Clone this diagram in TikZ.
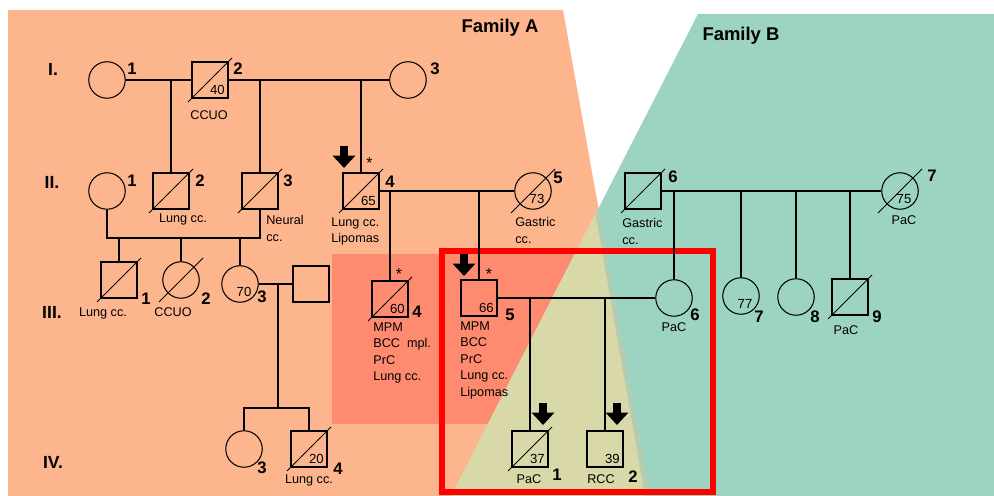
\documentclass[tikz,border=0pt]{standalone}
\usepackage{fontspec}
\setmainfont{Liberation Sans}
\usetikzlibrary{calc,arrows.meta}
\definecolor{famAcol}{RGB}{253,181,141}
\definecolor{famBcol}{RGB}{157,211,193}
\definecolor{hotcol}{RGB}{254,139,111}
\definecolor{mixcol}{RGB}{217,216,169}
\definecolor{stripecol}{RGB}{180,205,178}
\begin{document}
\begin{tikzpicture}[x=0.02cm, y=-0.02cm,
    sq/.style={draw, line width=0.6pt, minimum size=0.72cm, inner sep=0pt},
    ci/.style={draw, circle, line width=0.6pt, minimum size=0.73cm, inner sep=0pt},
    link/.style={line width=1.1pt},
    slash/.style={line width=0.5pt},
    proband/.style={line width=5pt, -{Triangle[width=12.5pt, length=7pt]}},
    num/.style={font=\fontsize{9.5}{11}\selectfont\bfseries, inner sep=0pt},
    gen/.style={font=\fontsize{10}{12}\selectfont\bfseries, inner sep=0pt},
    title/.style={font=\fontsize{10.5}{12}\selectfont\bfseries, inner sep=0pt},
    note/.style={font=\fontsize{7.2}{9.4}\selectfont, inner sep=0pt},
    notes/.style={note, align=left, anchor=north west},
    agetxt/.style={font=\fontsize{7.5}{9}\selectfont, inner sep=2pt, anchor=south east},
    ageround/.style={agetxt, xshift=1.1pt, yshift=-1.7pt},
    asterisk/.style={font=\fontsize{9}{10}\selectfont, inner sep=0pt}]
    \useasboundingbox (0,0) rectangle (994,496);

    % Backgrounds: family A, family B and their overlap
    \fill[famAcol] (8,10) -- (563,10) -- (650,496) -- (8,496) -- cycle;
    \fill[hotcol] (332,254) rectangle (600,424);
    \fill[famBcol] (698,14) -- (994,14) -- (994,496) -- (451,496) -- cycle;
    \begin{scope}
        \clip (598,208) -- (650,496) -- (451,496) -- cycle;
        \fill[mixcol] (598,208) -- (650,496) -- (451,496) -- cycle;
        \draw[stripecol, line width=3.4pt] (596,200) -- (648,496);
    \end{scope}
    \draw[red, line width=2.9pt] (442,251) rectangle (713,492);

    \node[title] (famA) at (500,28) {Family A};
    \node[title] (famB) at (741,36) {Family B};

    % Generation labels
    \foreach \x/\y/\t [count=\k] in {53/69/I., 52/182/II., 52/312/III., 53/462/IV.}
        \node[gen] (gen\k) at (\x,\y) {\t};

    % Generation I
    \node[ci] (i1) at (107,80) {};
    \node[sq] (i2) at (210,80) {};
    \node[ci] (i3) at (408,80) {};

    % Generation II
    \node[ci] (ii1) at (107,191) {};
    \node[sq] (ii2) at (171,191) {};
    \node[sq] (ii3) at (260,191) {};
    \node[sq] (ii4) at (361,191) {};
    \node[ci] (ii5) at (533,191) {};
    \node[sq] (ii6) at (643,191) {};
    \node[ci] (ii7) at (900,191) {};

    % Generation III
    \node[sq] (iii1) at (119,280) {};
    \node[ci] (iii2) at (181,280) {};
    \node[ci] (iii3) at (240,284) {};
    \node[sq] (iii3m) at (311,284) {};
    \node[sq] (iii4) at (390,299) {};
    \node[sq] (iii5) at (479,298) {};
    \node[ci] (iii6) at (674,298) {};
    \node[ci] (iii7) at (741,296) {};
    \node[ci] (iii8) at (796,297) {};
    \node[sq] (iii9) at (850,297) {};

    % Generation IV
    \node[ci] (iv3) at (244,449) {};
    \node[sq] (iv4) at (309,449) {};
    \node[sq] (iv1) at (530,449) {};
    \node[sq] (iv2) at (605,449) {};

    % Deceased
    \foreach \c in {i2,ii2,ii3,ii4,ii5,ii6,ii7,iii1,iii2,iii4,iii9,iv4,iv1}
        \draw[slash] ($(\c)+(-22,22)$) -- ($(\c)+(22,-22)$);

    % Ages
    \foreach \c/\a in {i2/40, ii4/65, iii4/60, iii5/66, iv4/20, iv1/37, iv2/39}
        \node[agetxt] (\c-age) at (\c.south east) {\a};
    \foreach \c/\a in {ii5/73, ii7/75, iii3/70, iii7/77}
        \node[ageround] (\c-age) at (\c.south east) {\a};

    % Lines of descent
    \draw[link] (i1) -- (i2);
    \draw[link] (i2) -- (i3);
    \draw[link] (ii2.north) -- (ii2.north |- i1.east);
    \draw[link] (ii3.north) -- (ii3.north |- i3.west);
    \draw[link] (ii4.north) -- (ii4.north |- i3.west);

    \coordinate (u1) at (183,238);
    \draw[link] (ii1.south) |- (u1) -| (ii3.south);
    \foreach \c in {iii1,iii2,iii3}
        \draw[link] (\c.north) -- (\c.north |- u1);
    \draw[link] (ii4) -- (ii5);
    \draw[link] (iii4.north) -- (iii4.north |- ii4.east);
    \draw[link] (iii5.north) -- (iii5.north |- ii4.east);
    \draw[link] (ii6) -- (ii7);
    \foreach \c in {iii6,iii7,iii8,iii9}
        \draw[link] (\c.north) -- (\c.north |- ii6.east);

    \draw[link] (iii3) -- (iii3m);
    \coordinate (u2) at (278,408);
    \draw[link] (u2) -- (u2 |- iii3.east);
    \draw[link] (iv3.north) |- (u2) -| (iv4.north);
    \draw[link] (iii5) -- (iii6);
    \draw[link] (iv1.north) -- (iv1.north |- iii5.east);
    \draw[link] (iv2.north) -- (iv2.north |- iii5.east);

    % Probands and tested carriers
    \foreach \x/\y [count=\k] in {344/146, 464/254, 543/403, 617/403}
        \draw[proband] (\x,\y) coordinate (pb\k) -- ++(0,22);
    \node[asterisk] (st1) at (369.5,163) {*};
    \node[asterisk] (st2) at (399,274) {*};
    \node[asterisk] (st3) at (489,274) {*};

    % Individual numbers
    \foreach \x/\y/\t [count=\k] in {132/69/1, 238/69/2, 435/69/3, 132/181/1, 200/181/2, 288/181/3,
        390/182/4, 558/178/5, 673/177/6, 932/176/7, 146/299/1, 206/299/2, 262/297/3, 417/312/4,
        510/315/5, 695/315/6, 759/317/7, 815/317/8, 877/317/9, 262/468/3, 338/469/4, 557/475/1, 633/477/2}
        \node[num] (n\k) at (\x,\y) {\t};

    % Diagnoses
    \foreach \x/\y/\t [count=\k] in {209/115/CCUO, 183/219/Lung cc., 904/220/PaC, 103/313/Lung cc.,
        173/312/CCUO, 309/480/Lung cc., 674/327/PaC, 846/330/PaC, 529/479/PaC, 601/479/RCC}
        \node[note] (d\k) at (\x,\y) {\t};
    \node[notes] (dx1) at (266,215) {Neural\\cc.};
    \node[notes] (dx2) at (331,217) {Lung cc.\\Lipomas};
    \node[notes] (dx3) at (515,217) {Gastric\\cc.};
    \node[notes] (dx4) at (622,218) {Gastric\\cc.};
    \node[notes] (dx5) at (373,322) {MPM\\BCC\ \ mpl.\\PrC\\Lung cc.};
    \node[notes] (dx6) at (460,321) {MPM\\BCC\\PrC\\Lung cc.\\Lipomas};
\end{tikzpicture}
\end{document}
